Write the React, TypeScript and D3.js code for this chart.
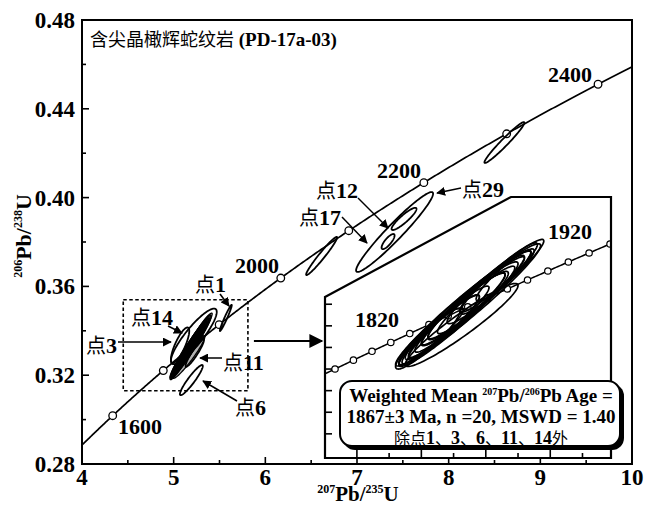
import React from "react";
import * as d3 from "d3";

const W = 649;
const H = 506;

// ---- axis ticks ----
const xTicks = [4, 5, 6, 7, 8, 9, 10];
const xTickLabels = ["4", "5", "6", "7", "8", "9", "10"];
const xMinorTicks = [4.5, 5.5, 6.5, 7.5, 8.5, 9.5];
const yTicks = [0.28, 0.32, 0.36, 0.4, 0.44, 0.48];
const yTickLabels = ["0.28", "0.32", "0.36", "0.40", "0.44", "0.48"];
const yMinorTicks = [0.3, 0.34, 0.38, 0.42, 0.46];

// ---- concordia age marks (Ma) ----
const mainAgeMarks = [1700, 1800, 1900, 2000, 2100, 2200, 2300, 2400];
const mainAgeLabelTexts = ["1600", "2000", "2200", "2400"];
const insetAgeMarks = [1780, 1790, 1800, 1810, 1820, 1830, 1840, 1850, 1860, 1870, 1880, 1890, 1900, 1910, 1920];
const insetAgeLabelTexts = ["1820", "1920"];

// ---- inset axis ticks ----
const insetXTicks = [4.84, 4.94, 5.04, 5.14, 5.24, 5.34, 5.44, 5.54];
const insetYTicks = [0.303, 0.308, 0.313, 0.318, 0.323, 0.328, 0.333];

// ---- included analyses (207Pb/235U, half-extent, 206Pb/238U, half-extent, rho) ----
const incX = [5.1, 5.15, 5.2, 5.18, 5.22, 5.12, 5.25, 5.08, 5.16, 5.27, 5.14, 5.21, 5.23, 5.06, 5.3, 5.19, 5.165, 5.11, 5.28, 5.17];
const incSx = [0.12, 0.15, 0.14, 0.18, 0.16, 0.1, 0.13, 0.09, 0.2, 0.11, 0.17, 0.12, 0.19, 0.1, 0.09, 0.22, 0.175, 0.14, 0.12, 0.13];
const incY = [0.3272, 0.3305, 0.3338, 0.3322, 0.3352, 0.3285, 0.337, 0.3262, 0.3315, 0.338, 0.3296, 0.334, 0.3358, 0.325, 0.3398, 0.333, 0.3282, 0.328, 0.3392, 0.3318];
const incSy = [0.008, 0.0098, 0.009, 0.0118, 0.0102, 0.0066, 0.0085, 0.006, 0.0128, 0.0073, 0.011, 0.0078, 0.0122, 0.007, 0.006, 0.014, 0.0096, 0.0092, 0.008, 0.0084];
const incRho = [0.95, 0.96, 0.95, 0.97, 0.96, 0.94, 0.95, 0.93, 0.97, 0.94, 0.96, 0.95, 0.97, 0.92, 0.93, 0.97, 0.95, 0.96, 0.95, 0.95];

// ---- excluded / discordant analyses ----
const outX = [5.569, 5.07, 5.193, 5.23, 5.22, 6.614, 7.41, 7.339, 7.513, 8.608];
const outSx = [0.065, 0.1, 0.125, 0.1, 0.25, 0.169, 0.42, 0.071, 0.136, 0.218];
const outY = [0.3458, 0.3335, 0.3178, 0.33, 0.3375, 0.3737, 0.3845, 0.3802, 0.3904, 0.4248];
const outSy = [0.0059, 0.008, 0.0068, 0.0062, 0.0125, 0.0086, 0.018, 0.0034, 0.005, 0.0092];
const outRho = [0.97, 0.8, 0.93, 0.93, 0.88, 0.97, 0.96, 0.8, 0.9, 0.97];

// ---- zoom window (main data coords) ----
const zoomX = [4.45, 5.81];
const zoomY = [0.313, 0.354];

// ---- annotation labels ----
const pointLabels = ["1", "14", "3", "11", "6", "12", "17", "29"];

// layout (pixels)
const M = { left: 82, right: 632, top: 20, bottom: 464 };
const INS = { left: 325, right: 611, top: 197, bottom: 458, cutY: 297, cutX: 511 };
const insetDomX = [4.741, 5.6285];
const insetDomY = [0.29741, 0.35782];
const labelPos: [number, number][] = [[195, 292], [131, 325], [86, 353], [223, 370], [235, 415], [316, 198], [299, 225], [462, 197]];
const labelArrows: [number, number, number, number][] = [
  [220, 294, 229, 306],
  [168, 326, 182, 333],
  [118, 342, 171, 342],
  [222, 358, 200, 358],
  [237, 401, 203, 381],
  [358, 198, 388, 228],
  [342, 217, 367, 243],
  [461, 188, 437, 193],
];
const mainAgeLabelPos: [number, number][] = [[118, 434], [235, 273], [377, 178], [548, 82]];
const insetAgeLabelPos: [number, number][] = [[355, 327], [548, 239]];

const L235 = 9.8485e-4;
const L238 = 1.55125e-4;
const conc = (t: number): [number, number] => [Math.exp(L235 * t) - 1, Math.exp(L238 * t) - 1];

function ellipsePts(cx: number, sx: number, cy: number, sy: number, rho: number, n = 120): [number, number][] {
  const k = Math.sqrt(1 - rho * rho);
  return d3.range(n).map((i) => {
    const t = (2 * Math.PI * i) / n;
    return [cx + sx * Math.cos(t), cy + sy * (rho * Math.cos(t) + k * Math.sin(t))];
  });
}

const SERIF = "'Liberation Serif', 'Times New Roman', serif";
const CJK = "'Noto Sans CJK SC', sans-serif";

export default function App() {
  const x = d3.scaleLinear().domain([4, 10]).range([M.left, M.right]);
  const y = d3.scaleLinear().domain([0.28, 0.48]).range([M.bottom, M.top]);
  const xi = d3.scaleLinear().domain(insetDomX).range([INS.left, INS.right]);
  const yi = d3.scaleLinear().domain(insetDomY).range([INS.bottom, INS.top]);

  const mainLine = d3.line<[number, number]>().x((d) => x(d[0])).y((d) => y(d[1]));
  const insetLine = d3.line<[number, number]>().x((d) => xi(d[0])).y((d) => yi(d[1]));
  const mainClosed = d3.line<[number, number]>().x((d) => x(d[0])).y((d) => y(d[1])).curve(d3.curveLinearClosed);
  const insetClosed = d3.line<[number, number]>().x((d) => xi(d[0])).y((d) => yi(d[1])).curve(d3.curveLinearClosed);

  const mainConc = d3.range(1600, 2500, 2).map(conc);
  const insetConc = d3.range(1750, 1940, 1).map(conc);

  const insetPoly = `M${INS.left},${INS.cutY} L${INS.cutX},${INS.top} L${INS.right},${INS.top} L${INS.right},${INS.bottom} L${INS.left},${INS.bottom} Z`;

  const inc = incX.map((_, i) => ellipsePts(incX[i], incSx[i], incY[i], incSy[i], incRho[i]));
  const outs = outX.map((_, i) => ellipsePts(outX[i], outSx[i], outY[i], outSy[i], outRho[i]));

  return (
    <svg width={W} height={H} style={{ position: "absolute", left: 0, top: 0, background: "#fff" }}>
      <defs>
        <clipPath id="mainClip">
          <rect x={M.left} y={M.top} width={M.right - M.left} height={M.bottom - M.top} />
        </clipPath>
        <clipPath id="insetClip">
          <path d={insetPoly} />
        </clipPath>
        <marker id="arr" viewBox="0 0 10 10" refX="9" refY="5" markerWidth="9" markerHeight="9" markerUnits="userSpaceOnUse" orient="auto">
          <path d="M0,0 L10,5 L0,10 Z" fill="#000" />
        </marker>
        <marker id="bigArr" viewBox="0 0 10 10" refX="9" refY="5" markerWidth="16" markerHeight="14" markerUnits="userSpaceOnUse" orient="auto">
          <path d="M0,0 L10,5 L0,10 Z" fill="#000" />
        </marker>
      </defs>
      <rect x={0} y={0} width={W} height={H} fill="#fff" />

      {/* main plot content */}
      <g clipPath="url(#mainClip)">
        <path d={mainLine(mainConc) || ""} fill="none" stroke="#000" strokeWidth={1.7} />
        {mainAgeMarks.map((a) => {
          const p = conc(a);
          return <circle key={a} cx={x(p[0])} cy={y(p[1])} r={3.8} fill="#fff" stroke="#000" strokeWidth={1.3} />;
        })}
        {inc.map((pts, i) => (
          <path key={"mi" + i} d={mainClosed(pts) || ""} fill="#000" fillOpacity={0.3} stroke="#000" strokeWidth={1.3} />
        ))}
        {outs.map((pts, i) => (
          <path key={"mo" + i} d={mainClosed(pts) || ""} fill="none" stroke="#000" strokeWidth={1.8} />
        ))}
        <rect
          x={x(zoomX[0])}
          y={y(zoomY[1])}
          width={x(zoomX[1]) - x(zoomX[0])}
          height={y(zoomY[0]) - y(zoomY[1])}
          fill="none"
          stroke="#000"
          strokeWidth={1.6}
          strokeDasharray="3.5,2.5"
        />
      </g>

      {/* inset */}
      <path d={insetPoly} fill="#fff" stroke="none" />
      <g clipPath="url(#insetClip)">
        <path d={insetLine(insetConc) || ""} fill="none" stroke="#000" strokeWidth={1.5} />
        {insetAgeMarks.map((a) => {
          const p = conc(a);
          return <circle key={a} cx={xi(p[0])} cy={yi(p[1])} r={3.2} fill="#fff" stroke="#000" strokeWidth={1.2} />;
        })}
        {inc.map((pts, i) => (
          <path key={"ii" + i} d={insetClosed(pts) || ""} fill="none" stroke="#000" strokeWidth={1.7} />
        ))}
      </g>
      <path d={insetPoly} fill="none" stroke="#000" strokeWidth={2.2} />
      {insetXTicks.map((v, i) => (
        <line key={"ixt" + i} x1={xi(v)} x2={xi(v)} y1={INS.bottom} y2={INS.bottom - (i % 2 === 0 ? 8 : 5)} stroke="#000" strokeWidth={1.6} />
      ))}
      {insetYTicks.map((v, i) => (
        <line key={"iyt" + i} x1={INS.left} x2={INS.left + 7} y1={yi(v)} y2={yi(v)} stroke="#000" strokeWidth={1.6} />
      ))}
      {insetAgeLabelTexts.map((t, i) => (
        <text key={"ial" + i} x={insetAgeLabelPos[i][0]} y={insetAgeLabelPos[i][1]} fontFamily={SERIF} fontWeight="bold" fontSize={22}>
          {t}
        </text>
      ))}

      {/* zoom arrow */}
      <line x1={x(zoomX[1]) + 6} y1={341} x2={INS.left - 3} y2={341} stroke="#000" strokeWidth={2} markerEnd="url(#bigArr)" />

      {/* result box */}
      <rect x={343} y={384} width={281} height={66} rx={12} ry={12} fill="#000" />
      <rect x={340} y={381} width={280} height={65} rx={12} ry={12} fill="#fff" stroke="#000" strokeWidth={2} />
      <text x={481} y={402} textAnchor="middle" fontFamily={SERIF} fontWeight="bold" fontSize={19}>
        Weighted Mean <tspan fontSize={10} dy={-7}>207</tspan>
        <tspan dy={7}>Pb/</tspan>
        <tspan fontSize={10} dy={-7}>206</tspan>
        <tspan dy={7}>Pb Age =</tspan>
      </text>
      <text x={481} y={423} textAnchor="middle" fontFamily={SERIF} fontWeight="bold" fontSize={19}>
        1867±3 Ma, n =20, MSWD = 1.40
      </text>
      <text x={481} y={444} textAnchor="middle" fontSize={16}>
        <tspan fontFamily={CJK}>除点</tspan>
        <tspan fontFamily={SERIF} fontWeight="bold" fontSize={18}>1</tspan>
        <tspan fontFamily={CJK}>、</tspan>
        <tspan fontFamily={SERIF} fontWeight="bold" fontSize={18}>3</tspan>
        <tspan fontFamily={CJK}>、</tspan>
        <tspan fontFamily={SERIF} fontWeight="bold" fontSize={18}>6</tspan>
        <tspan fontFamily={CJK}>、</tspan>
        <tspan fontFamily={SERIF} fontWeight="bold" fontSize={18}>11</tspan>
        <tspan fontFamily={CJK}>、</tspan>
        <tspan fontFamily={SERIF} fontWeight="bold" fontSize={18}>14</tspan>
        <tspan fontFamily={CJK}>外</tspan>
      </text>

      {/* main age labels */}
      {mainAgeLabelTexts.map((t, i) => (
        <text key={"mal" + i} x={mainAgeLabelPos[i][0]} y={mainAgeLabelPos[i][1]} fontFamily={SERIF} fontWeight="bold" fontSize={22}>
          {t}
        </text>
      ))}

      {/* point labels + arrows */}
      {pointLabels.map((t, i) => (
        <g key={"pl" + i}>
          <text x={labelPos[i][0]} y={labelPos[i][1]} fontSize={20}>
            <tspan fontFamily={CJK}>点</tspan>
            <tspan fontFamily={SERIF} fontWeight="bold" fontSize={22}>{t}</tspan>
          </text>
          <line
            x1={labelArrows[i][0]}
            y1={labelArrows[i][1]}
            x2={labelArrows[i][2]}
            y2={labelArrows[i][3]}
            stroke="#000"
            strokeWidth={1.5}
            markerEnd="url(#arr)"
          />
        </g>
      ))}

      {/* title */}
      <text x={90} y={46} fontSize={18}>
        <tspan fontFamily={CJK}>含尖晶橄辉蛇纹岩</tspan>
        <tspan fontFamily={SERIF} fontWeight="bold" fontSize={19}> (PD-17a-03)</tspan>
      </text>

      {/* frame + ticks */}
      <rect x={M.left} y={M.top} width={M.right - M.left} height={M.bottom - M.top} fill="none" stroke="#000" strokeWidth={2} />
      {xTicks.map((v) => (
        <line key={"xt" + v} x1={x(v)} x2={x(v)} y1={M.bottom} y2={M.bottom - 7} stroke="#000" strokeWidth={1.6} />
      ))}
      {xMinorTicks.map((v) => (
        <line key={"xm" + v} x1={x(v)} x2={x(v)} y1={M.bottom} y2={M.bottom - 4} stroke="#000" strokeWidth={1.6} />
      ))}
      {yTicks.map((v) => (
        <line key={"yt" + v} x1={M.left} x2={M.left + 7} y1={y(v)} y2={y(v)} stroke="#000" strokeWidth={1.6} />
      ))}
      {yMinorTicks.map((v) => (
        <line key={"ym" + v} x1={M.left} x2={M.left + 4} y1={y(v)} y2={y(v)} stroke="#000" strokeWidth={1.6} />
      ))}
      {xTicks.map((v, i) => (
        <text key={"xl" + v} x={x(v)} y={485} textAnchor="middle" fontFamily={SERIF} fontWeight="bold" fontSize={23}>
          {xTickLabels[i]}
        </text>
      ))}
      {yTicks.map((v, i) => (
        <text key={"yl" + v} x={75} y={y(v) + 8} textAnchor="end" fontFamily={SERIF} fontWeight="bold" fontSize={23}>
          {yTickLabels[i]}
        </text>
      ))}

      {/* axis titles */}
      <text x={358} y={501} textAnchor="middle" fontFamily={SERIF} fontWeight="bold" fontSize={21}>
        <tspan fontSize={12} dy={-8}>207</tspan>
        <tspan dy={8}>Pb/</tspan>
        <tspan fontSize={12} dy={-8}>235</tspan>
        <tspan dy={8}>U</tspan>
      </text>
      <text transform="translate(31,236) rotate(-90)" textAnchor="middle" fontFamily={SERIF} fontWeight="bold" fontSize={22}>
        <tspan fontSize={12} dy={-9}>206</tspan>
        <tspan dy={9}>Pb/</tspan>
        <tspan fontSize={12} dy={-9}>238</tspan>
        <tspan dy={9}>U</tspan>
      </text>
    </svg>
  );
}
